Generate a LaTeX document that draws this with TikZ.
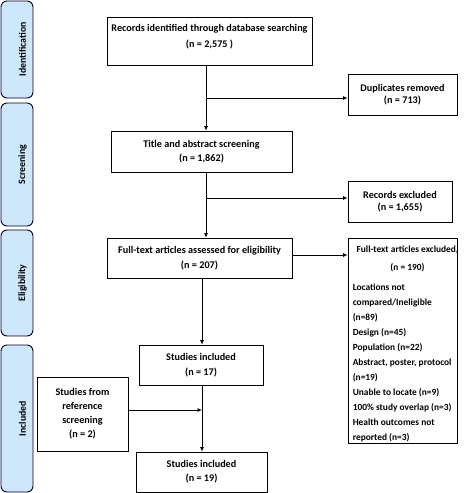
\documentclass[tikz,border=0pt]{standalone}
\usepackage{fontspec}
\setmainfont{Carlito}
\usetikzlibrary{arrows.meta}
\definecolor{sidefill}{RGB}{207,231,250}
\newcommand{\fs}[1]{\fontsize{10.2}{#1}\selectfont\bfseries}
\newcommand{\fsl}[1]{\fontsize{9.4}{#1}\selectfont\bfseries}
\begin{document}
\begin{tikzpicture}[x=1pt,y=-1pt,
  font=\fs{14},
  box/.style={draw=black,line width=0.8pt,rectangle,inner sep=0pt,align=center},
  side/.style={draw=black!85!blue,line width=0.9pt,fill=sidefill,rounded corners=6pt,inner sep=0pt,minimum width=32pt},
  sidetxt/.style={rotate=90,font=\fontsize{9.8}{10}\selectfont\bfseries},
  arr/.style={line width=0.8pt,-{Latex[length=4.5pt,width=4pt]}},
  ln/.style={line width=0.8pt}]
\useasboundingbox (0,0) rectangle (473,493);
% sidebars
\node[side,minimum height=97pt] (s1) at (17,49.5) {};
\node[side,minimum height=123pt] (s2) at (17,164.5) {};
\node[side,minimum height=106pt] (s3) at (17,283) {};
\node[side,minimum height=147pt] (s4) at (17,418.5) {};
\node[sidetxt] at ([xshift=5.5pt]s1.center) {Identification};
\node[sidetxt] at ([xshift=5.5pt]s2.center) {Screening};
\node[sidetxt] at ([xshift=5.5pt]s3.center) {Eligibility};
\node[sidetxt] at ([xshift=5.5pt]s4.center) {Included};
% main boxes
\node[box,minimum width=205pt,minimum height=48pt,
  label={[align=center,yshift=4pt,font=\fs{16}]center:{Records identified through database searching\\(n = 2,575 )}}] (rec) at (209.5,41) {};
\node[box,minimum width=109pt,minimum height=41pt,font=\fs{12}] (dup) at (402.5,94.5) {Duplicates removed\\(n = 713)};
\node[box,minimum width=181pt,minimum height=41pt] (tas) at (201.5,151.5) {Title and abstract screening\\(n = 1,862)};
\node[box,minimum width=104pt,minimum height=41pt,font=\fs{12}] (rex) at (400,201.5) {Records excluded\\(n = 1,655)};
\node[box,minimum width=185pt,minimum height=40pt,font=\fs{15}] (fta) at (199.5,258) {Full-text articles assessed for eligibility\\(n = 207)};
\node[box,minimum width=109pt,minimum height=205pt] (fte) at (402.5,340.5) {};
\node[anchor=north,inner sep=0pt,align=center,font=\fsl{18}] (fteh) at ([xshift=5pt,yshift=-8pt]fte.north) {Full-text articles excluded,\\(n = 190)};
\node[anchor=north west,inner sep=0pt,align=left,font=\fsl{15}] (ftel) at ([xshift=5pt,yshift=-46pt]fte.north west)
  {Locations not\\ compared/Ineligible\\ (n=89)\\ Design (n=45)\\ Population (n=22)\\ Abstract, poster, protocol\\ (n=19)\\ Unable to locate (n=9)\\ 100\% study overlap (n=3)\\ Health outcomes not\\ reported (n=3)};
\node[box,minimum width=124pt,minimum height=40pt,font=\fs{15}] (si17) at (201,365) {Studies included\\(n = 17)};
\node[box,minimum width=91pt,minimum height=74pt] (ref) at (82.5,414) {Studies from\\reference\\screening\\(n = 2)};
\node[box,minimum width=131pt,minimum height=40pt] (si19) at (201.5,472) {Studies included\\(n = 19)};
% helper coordinates
\coordinate (xa) at (206,0);
\coordinate (xb) at (202,0);
\coordinate (j1) at (206,98);
\coordinate (j2) at (206,198);
\coordinate (j3) at (202,410);
\coordinate (y4) at (0,255);
% connectors
\draw[arr] (rec.south -| xa) -- (tas.north -| xa);
\draw[arr] (j1) -- (dup.west |- j1);
\draw[arr] (tas.south -| xa) -- (fta.north -| xa);
\draw[arr] (j2) -- (rex.west |- j2);
\draw[arr] (fta.east |- y4) -- (fte.west |- y4);
\draw[arr] (fta.south -| xb) -- (si17.north -| xb);
\draw[arr] (si17.south -| xb) -- (si19.north -| xb);
\draw[arr] (ref.east |- j3) -- (j3);
\end{tikzpicture}
\end{document}
